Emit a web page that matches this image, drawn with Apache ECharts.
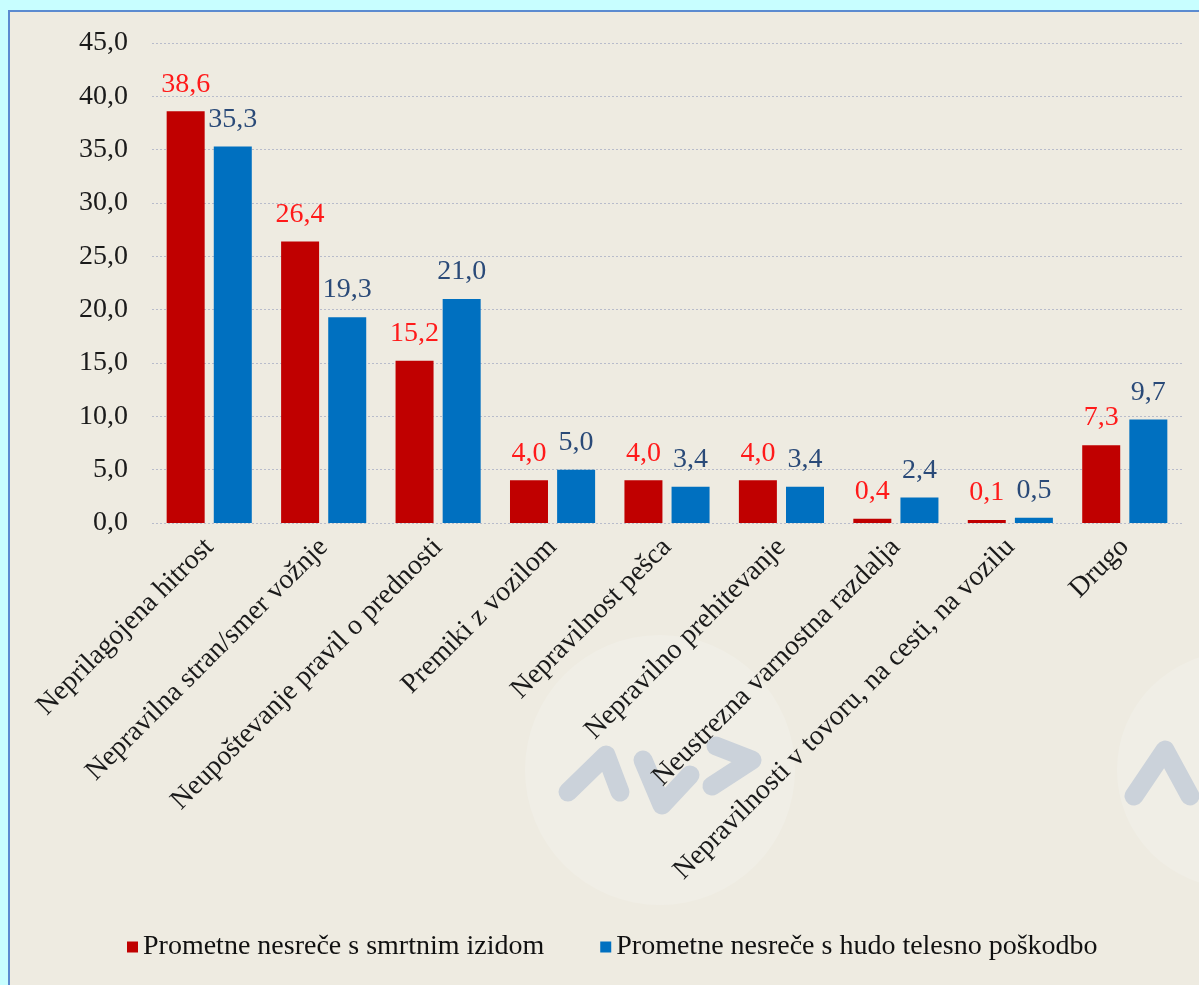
<!DOCTYPE html>
<html>
<head>
<meta charset="UTF-8">
<title></title>
<script src="https://cdn.jsdelivr.net/npm/echarts@6/dist/echarts.min.js"></script>
<style>
html,body{margin:0;padding:0;background:#C8FEFF;}
#frame{position:absolute;left:8px;top:10px;width:1200px;height:990px;background:#EEEBE1;border-left:2px solid #5B8BD0;border-top:2px solid #5B8BD0;box-sizing:border-box;}
#chart{position:absolute;left:0;top:0;width:1199px;height:985px;}
</style>
</head>
<body>
<div id="frame"></div>
<div id="chart"></div>
<script>
var categories = ['Neprilagojena hitrost', 'Nepravilna stran/smer vožnje', 'Neupoštevanje pravil o prednosti',
  'Premiki z vozilom', 'Nepravilnost pešca', 'Nepravilno prehitevanje', 'Neustrezna varnostna razdalja',
  'Nepravilnosti v tovoru, na cesti, na vozilu', 'Drugo'];
var seriesNames = ['Prometne nesreče s smrtnim izidom', 'Prometne nesreče s hudo telesno poškodbo'];
var fatal = [38.6, 26.4, 15.2, 4.0, 4.0, 4.0, 0.4, 0.1, 7.3];
var injury = [35.3, 19.3, 21.0, 5.0, 3.4, 3.4, 2.4, 0.5, 9.7];

var font = 'Liberation Serif';
function fmt(v) { return v.toFixed(1).replace('.', ','); }

// faint watermark in the background
var wmLine = { stroke: '#CBD2DA', lineWidth: 19, lineCap: 'round', lineJoin: 'round', fill: null };
var watermark = [
  { type: 'circle', shape: { cx: 660, cy: 770, r: 135 }, style: { fill: '#F0EEE6' }, z: -10 },
  { type: 'circle', shape: { cx: 1235, cy: 770, r: 118 }, style: { fill: '#F0EEE6' }, z: -10 },
  { type: 'polyline', shape: { points: [[568, 792], [606, 755], [620, 792]] }, style: wmLine, z: -9 },
  { type: 'polyline', shape: { points: [[643, 760], [662, 805], [690, 775]] }, style: wmLine, z: -9 },
  { type: 'polyline', shape: { points: [[716, 746], [752, 760], [712, 786]] }, style: wmLine, z: -9 },
  { type: 'polyline', shape: { points: [[1134, 796], [1165, 750], [1190, 796]] }, style: wmLine, z: -9 }
];

var chart = echarts.init(document.getElementById('chart'));
chart.setOption({
  animation: false,
  graphic: watermark,
  grid: { left: 152, right: 17, top: 43, bottom: 462, containLabel: false },
  legend: {
    bottom: 19, left: 122, itemWidth: 11, itemHeight: 11, itemGap: 56,
    icon: 'rect',
    textStyle: { fontFamily: font, fontSize: 28, color: '#111' },
    data: seriesNames
  },
  xAxis: {
    type: 'category', data: categories,
    axisLine: { show: false }, axisTick: { show: false },
    axisLabel: { rotate: 45, interval: 0, margin: 20, fontFamily: font, fontSize: 28, color: '#1a1a1a' }
  },
  yAxis: {
    type: 'value', min: 0, max: 45, interval: 5,
    axisLine: { show: false }, axisTick: { show: false },
    axisLabel: { formatter: fmt, fontFamily: font, fontSize: 28, color: '#1a1a1a', margin: 24 },
    splitLine: { lineStyle: { color: '#B8BCCB', type: [2, 2], width: 1 } }
  },
  series: [
    {
      name: seriesNames[0], type: 'bar', data: fatal, barWidth: 38, barGap: '24%', barMinHeight: 3,
      itemStyle: { color: '#C00000' },
      label: { show: true, position: 'top', distance: 13, formatter: function (p) { return fmt(p.value); },
        fontFamily: font, fontSize: 28, color: '#FF1A1A' }
    },
    {
      name: seriesNames[1], type: 'bar', data: injury, barWidth: 38, barMinHeight: 3,
      itemStyle: { color: '#0070C0' },
      label: { show: true, position: 'top', distance: 13, formatter: function (p) { return fmt(p.value); },
        fontFamily: font, fontSize: 28, color: '#2A4A78' }
    }
  ]
});
</script>
</body>
</html>
